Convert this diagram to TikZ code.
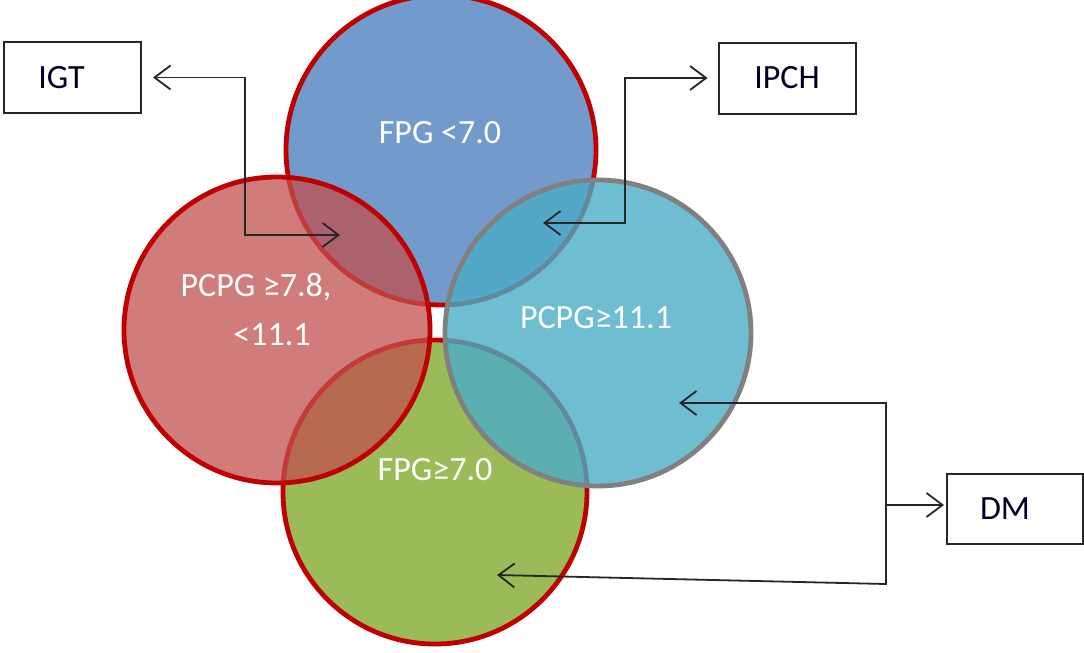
\documentclass[tikz,border=0pt]{standalone}
\usepackage{fontspec}
\setmainfont{Carlito}
\usetikzlibrary{arrows.meta}
\definecolor{cblue}{HTML}{4F81BD}
\definecolor{cred}{HTML}{C0504D}
\definecolor{ccyan}{HTML}{4BACC6}
\definecolor{cgreen}{HTML}{9BBB59}
\definecolor{cline}{HTML}{C00000}
\definecolor{cgrey}{HTML}{808080}
\begin{document}
\begin{tikzpicture}[x=1pt,y=-1pt,
  ring/.style={line width=4.8pt, draw=cline},
  lbl/.style={text=white, font=\fontsize{34}{40}\selectfont, inner sep=0pt},
  tbox/.style={draw=black!85, line width=2pt, minimum width=137pt, minimum height=71pt, font=\fontsize{34}{40}\selectfont, text=black!85!blue},
  arr/.style={draw=black!85, line width=1.8pt, >={Straight Barb[length=16pt,width=24pt]}}
]
\useasboundingbox (0,0) rectangle (1084,653);
% circles
\path[ring, fill=cblue, fill opacity=.8] (441,150) circle[radius=155];
\path[ring, fill=cgreen] (435,492) circle[radius=152];
\path[ring, fill=cred, fill opacity=.75] (277,330) circle[radius=153];
\path[ring, draw=cgrey, fill=ccyan, fill opacity=.8] (598,333) circle[radius=153];
% labels
\node[lbl] (t1) at (440,133) {FPG <7.0};
\node[lbl] (t2) at (256,287) {PCPG ≥7.8,};
\node[lbl] (t3) at (272,335) {<11.1};
\node[lbl] (t4) at (596,318) {PCPG≥11.1};
\node[lbl] (t5) at (435,470) {FPG≥7.0};
% boxes
\node[tbox] (igt) at (72.5,77.5) {IGT\kern22pt};
\node[tbox] (ipch) at (787,78) {IPCH};
\node[tbox, minimum width=136pt, minimum height=70pt] (dm) at (1015,509) {DM\kern20pt};
% arrow points
\coordinate (gA) at (340,235);
\coordinate (pA) at (543,223);
\coordinate (cA) at (679,403);
\coordinate (gB) at (497,575);
\coordinate (dj) at (886,505);
\coordinate (dl) at (886,584);
% connectors
\draw[arr,<->] ([xshift=11pt]igt.east) -| (245,235) -- (gA);
\draw[arr,<->] (pA) -- (625,223) |- ([xshift=-10pt]ipch.west);
\draw[arr,->] (dj) -- ([xshift=-2pt]dj -| dm.west);
\draw[arr,->] (dj) |- (cA);
\draw[arr,->] (dj) -- (dl) -- (gB);
\end{tikzpicture}
\end{document}
